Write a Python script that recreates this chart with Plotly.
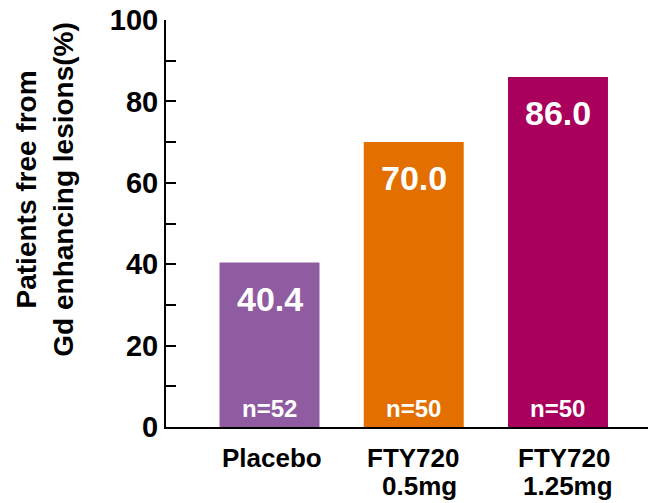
import plotly.graph_objects as go

# Gd-enhancing-lesion-free patients by treatment arm
group_line1 = ["Placebo", "FTY720", "FTY720"]
group_line2 = ["", "0.5mg", "1.25mg"]
percent_free = [40.4, 70.0, 86.0]
n_patients = [52, 50, 50]
bar_colors = ["#8F5BA1", "#E26F00", "#A9005E"]
y_ticks = [0, 20, 40, 60, 80, 100]

FONT = "Liberation Sans, Arial, sans-serif"
xpos = list(range(len(percent_free)))

fig = go.Figure(
    go.Bar(
        x=xpos,
        y=percent_free,
        width=0.693,
        marker=dict(color=bar_colors, line=dict(width=0)),
        hoverinfo="skip",
    )
)

annotations = []
for x, v, n in zip(xpos, percent_free, n_patients):
    # value printed near the top of each bar
    annotations.append(dict(
        x=x, y=v, xref="x", yref="y", text=f"{v:.1f}", showarrow=False,
        yanchor="middle", yshift=-36,
        font=dict(family=FONT, size=34, color="white", weight="bold"),
    ))
    # sample size at the foot of each bar
    annotations.append(dict(
        x=x, y=0, xref="x", yref="y", text=f"n={n}", showarrow=False,
        yanchor="middle", yshift=19,
        font=dict(family=FONT, size=24, color="white", weight="bold"),
    ))

# group names under the axis, two tightly spaced lines
cat_font = dict(family=FONT, size=26, color="black", weight="bold")
line1_shift = [2, 0, 7]
line2_shift = [0, 6, 10]
for x, l1, l2, s1, s2 in zip(xpos, group_line1, group_line2, line1_shift, line2_shift):
    annotations.append(dict(
        x=x, y=0, xref="x", yref="y", text=l1, showarrow=False,
        yanchor="middle", yshift=-31, xshift=s1, font=cat_font,
    ))
    if l2:
        annotations.append(dict(
            x=x, y=0, xref="x", yref="y", text=l2, showarrow=False,
            yanchor="middle", yshift=-59, xshift=s2, font=cat_font,
        ))

# two-line y-axis title
annotations.append(dict(
    x=-0.252, y=0.582, xref="paper", yref="paper",
    text="Patients free from<br>Gd enhancing lesions(%)",
    showarrow=False, textangle=-90, xanchor="center", yanchor="middle",
    font=dict(family=FONT, size=28, color="black", weight="bold"),
))

fig.update_layout(
    width=648, height=503,
    margin=dict(l=166, r=0, t=20, b=76),
    paper_bgcolor="white", plot_bgcolor="white",
    showlegend=False,
    annotations=annotations,
    xaxis=dict(
        range=[-0.7175, 2.624],
        tickvals=xpos, showticklabels=False,
        showline=True, linecolor="black", linewidth=2,
        ticks="", showgrid=False, zeroline=False,
    ),
    yaxis=dict(
        range=[0, 100],
        tickvals=y_ticks,
        showline=True, linecolor="black", linewidth=2,
        ticks="inside", ticklen=10, tickwidth=2, tickcolor="black",
        minor=dict(dtick=10, ticks="inside", ticklen=10, tickwidth=2, tickcolor="black"),
        showgrid=False, zeroline=False,
        tickfont=dict(family=FONT, size=29, color="black", weight="bold"),
    ),
)

fig.write_html("out.html")
